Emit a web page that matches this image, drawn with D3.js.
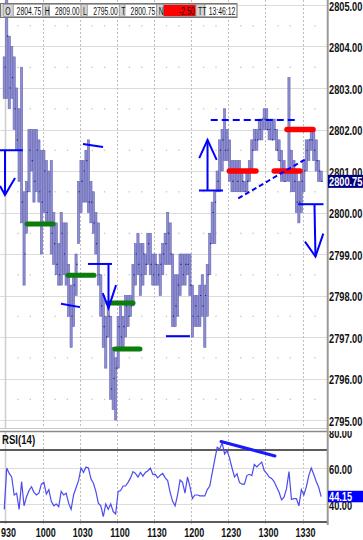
<!DOCTYPE html>
<html>
<head>
<meta charset="utf-8">
<script src="https://cdn.jsdelivr.net/npm/d3@7"></script>
<style>
  body { margin: 0; background: #fff; }
  svg { display: block; font-family: "Liberation Sans", Arial, sans-serif; }
  .grid { stroke: #dcdcdc; stroke-width: 1; }
  .vgrid { stroke: #bdbdbd; stroke-width: 1; stroke-dasharray: 2,2; }
  .bar { fill: #8e8ed0; stroke: #6464b4; stroke-width: 0.6; }
  .tick-close { stroke: #22227c; stroke-width: 1.2; }
  .note { fill: none; stroke: #0000ff; stroke-width: 2; }
  .axis-label { font-weight: bold; fill: #111; }
</style>
</head>
<body>
<svg id="chart" width="363" height="540"></svg>
<script>

/* DATA */
// 2-minute bars, first bar starts 2 minutes before 9:30
var barStart = -2;
var barMinutes = 2;

var highs = [
  2803.75, 2805.5, 2804.25, 2804, 2803.75, 2803, 2802.5, 2803.5, 2800.5, 2800.75,
  2802, 2802, 2802, 2802, 2801.75, 2801.5, 2801.5, 2801.25, 2801, 2801.25,
  2800, 2799.75, 2799.25, 2800, 2799.75, 2799.75, 2798.75, 2798.25, 2798.5, 2799,
  2800.75, 2801.25, 2801.25, 2801.5, 2801.75, 2800.75, 2800.5, 2800, 2799.75, 2798.5,
  2798, 2797.5, 2797.75, 2797.5, 2796.75, 2796.5, 2797.5, 2797.75, 2797.5, 2798,
  2798, 2798, 2798.75, 2799.25, 2799.5, 2799.25, 2799.25, 2799, 2799.5, 2799.5,
  2799, 2799, 2798.75, 2799, 2799.25, 2799.5, 2800, 2799.75, 2799, 2798.5,
  2798.5, 2799, 2799, 2799, 2799, 2799, 2798.25, 2798, 2798, 2798.25,
  2798.5, 2798.25, 2798.75, 2799.5, 2800.25, 2800.5, 2801, 2801.75, 2802, 2802.5,
  2802, 2801.75, 2801.25, 2801.25, 2801.25, 2801.25, 2801, 2800.75, 2801, 2801.25,
  2801.75, 2802, 2802, 2802.25, 2802.25, 2802.5, 2802.5, 2802.25, 2802.25, 2802.25,
  2802, 2801.75, 2801.5, 2801.25, 2801, 2803.25, 2801.5, 2801.25, 2801, 2800.75,
  2801, 2801.25, 2801.75, 2801.75, 2802, 2802, 2801.75, 2801.25, 2801
];

var lows = [
  2802.75, 2802.75, 2802.5, 2802.75, 2802, 2801.5, 2800.75, 2799.75, 2798.25, 2799.5,
  2800.5, 2801, 2800.25, 2800.5, 2800.25, 2799, 2800, 2799.75, 2799.75, 2799,
  2798.75, 2798.5, 2798.25, 2798.25, 2798.5, 2798.25, 2797.5, 2796.75, 2797.25, 2798,
  2799.25, 2800, 2800.25, 2800.25, 2800, 2799.75, 2799.5, 2799, 2798.25, 2797.5,
  2796.75, 2796.25, 2797, 2795.5, 2795.25, 2795, 2796.25, 2796.75, 2796.75, 2797,
  2797.25, 2797.5, 2797.75, 2798.25, 2798.5, 2798, 2798.25, 2798.5, 2798.75, 2798.5,
  2798.25, 2798.25, 2798.25, 2798, 2798.5, 2798.75, 2798.75, 2798.75, 2797.25, 2797.25,
  2797.5, 2798, 2798.25, 2798.25, 2798.5, 2798, 2797, 2797.25, 2797.25, 2797.25,
  2797.5, 2796.75, 2797.5, 2798.5, 2799.25, 2799.25, 2800.5, 2800.5, 2801, 2801.25,
  2801.25, 2800.75, 2800.5, 2800.5, 2800.5, 2800.5, 2800.5, 2800.5, 2800.5, 2800.75,
  2801, 2801.5, 2801.5, 2801.75, 2801.75, 2802, 2802, 2801.75, 2801.75, 2801.75,
  2801.5, 2801.25, 2800.75, 2800.75, 2800.75, 2800.75, 2800.5, 2800.5, 2800, 2799.75,
  2800, 2800.5, 2801, 2801.25, 2801.5, 2801.25, 2801, 2800.75, 2800.75
];

var closes = [
  2803.5, 2804.25, 2803, 2803.25, 2802.5, 2801.75, 2801.5, 2800.25, 2799, 2800.5,
  2801.5, 2801.25, 2800.75, 2801.5, 2800.5, 2800.25, 2801, 2800, 2800.5, 2799.5,
  2799.25, 2798.75, 2798.5, 2799.5, 2799, 2798.5, 2797.75, 2797.5, 2798.25, 2798.75,
  2800.5, 2800.75, 2801, 2801.25, 2800.25, 2800.25, 2799.75, 2799.25, 2798.5, 2797.75,
  2797.25, 2797, 2797.5, 2795.75, 2796, 2796.25, 2797.25, 2797, 2797.25, 2797.75,
  2797.5, 2797.75, 2798.5, 2799, 2798.75, 2798.5, 2799, 2798.75, 2799.25, 2798.75,
  2798.5, 2798.75, 2798.5, 2798.75, 2799, 2799.25, 2799.5, 2799, 2797.5, 2797.75,
  2798.25, 2798.75, 2798.5, 2798.75, 2798.75, 2798.25, 2797.5, 2797.75, 2797.5, 2798,
  2797.75, 2798, 2798.5, 2799.25, 2800, 2800.25, 2800.75, 2801.5, 2801.75, 2801.5,
  2801.5, 2801, 2800.75, 2801, 2800.75, 2801, 2800.75, 2800.5, 2800.75, 2801,
  2801.5, 2801.75, 2801.75, 2802, 2802.25, 2802.25, 2802, 2802, 2801.75, 2802,
  2801.5, 2801.25, 2801, 2800.75, 2801, 2801, 2801, 2800.75, 2800.25, 2800.25,
  2800.75, 2801, 2801.5, 2801.75, 2801.75, 2801.5, 2801.25, 2801, 2800.75
];

var rsiValues = [
  37, 60, 57, 55, 45, 46, 37, 52.4, 39, 44,
  47.5, 49.6, 46.5, 45, 46, 51, 52, 45.5, 48, 41.5,
  39, 40, 38.5, 47, 45, 46, 40.5, 37, 45, 49,
  53, 60, 57.5, 60.5, 60, 54, 51.5, 47, 40.5, 39,
  33, 40, 37, 40, 35.8, 34.5, 47, 47.5, 50, 50,
  52, 54.5, 58, 57, 55, 57.5, 55.5, 57.5, 58.5, 60,
  56.5, 56.5, 54.5, 56, 57, 54.5, 53, 46.5, 41.5, 39,
  45, 53.3, 52, 46, 55, 49.6, 43, 45, 45, 44.5,
  44.5, 44.5, 48, 50, 57.3, 64.5, 71.5, 70.5, 74, 67.8,
  69.7, 65.5, 60, 55, 56.8, 52, 51, 51, 55.8, 56.5,
  55.8, 62, 60.6, 62, 63.3, 58.5, 57, 55, 54.2, 52.5,
  49.5, 46.5, 42.3, 43.8, 48.5, 58, 42.5, 43, 43, 39,
  48, 45, 49.5, 55.8, 60, 56.5, 52.5, 49.3, 44.15
];

var priceTicks = [2795, 2796, 2797, 2798, 2799, 2800, 2801, 2802, 2803, 2804, 2805];
var timeTicks = [0, 30, 60, 90, 120, 150, 180, 210, 240];   // minutes after 9:30
var timeLabels = ["930", "1000", "1030", "1100", "1130", "1200", "1230", "1300", "1330"];
var rsiTicks = [40, 60, 80];
var rsiLevels = [30, 70];
var rsiTitle = "RSI(14)";

var infoLabels = ["O", "H", "L", "T", "N", "TT"];
var infoValues = ["2804.75", "2809.00", "2795.00", "2800.75", "-2.50", "13:46:12"];
var lastPrice = 2800.75;
var lastRsi = 44.15;

// hand drawn marks, in [minutes after 9:30, price]
var blueLines = [
  [[-4.5, 2801.5], [14, 2801.5]],
  [[62.6, 2801.65], [78.8, 2801.58]],
  [[44.8, 2797.8], [60.2, 2797.72]],
  [[66.6, 2798.76], [86, 2798.76]],
  [[129.6, 2797.02], [149, 2797.02]],
  [[156.3, 2800.53], [175.7, 2800.53]],
  [[236.4, 2800.2], [256.9, 2800.2]]
];
var arrows = [
  { shaft: [[-0.4, 2801.5], [-0.4, 2800.42]], head: [[-4.4, 2800.64], [7.7, 2800.83]] },
  { shaft: [[83.2, 2798.76], [83.2, 2797.7]], head: [[78.5, 2798.06], [89.3, 2798.25]] },
  { shaft: [[163.2, 2800.53], [163.2, 2801.75]], head: [[156.5, 2801.31], [170.6, 2801.27]] },
  { shaft: [[249.6, 2800.2], [250.4, 2798.94]], head: [[241.9, 2799.3], [256.7, 2799.49]] }
];
var greenLevels = [[17.4, 38.4, 2799.72], [50.5, 71.5, 2798.49], [82.8, 103, 2797.82], [88.4, 108.6, 2796.71]];
var redLevels = [[180.8, 202.3, 2801], [217.1, 237.9, 2801], [227.4, 248.4, 2802]];
var dashedLines = [
  { pts: [[165.8, 2802.23], [234.7, 2802.23]], dash: "7,4", w: 1.6 },
  { pts: [[188, 2800.34], [243.8, 2801.31]], dash: "5,3", w: 1.2 }
];
var rsiTrend = [[174.1, 74.7], [217.7, 66.7]];


/* SETUP */
var width = 363;
var height = 540;
var plotRight = 327;
var axisX = 328;

var x = d3.scaleLinear().domain([0, 240]).range([5.5, 302.6]);
var y = d3.scaleLinear().domain([2795, 2805]).range([420, 5]);
var yRsi = d3.scaleLinear().domain([30, 80]).range([522, 432]);

var svg = d3.select("svg#chart");
var defs = svg.append("defs");
defs.append("clipPath").attr("id", "clipMain")
  .append("rect").attr("x", 0).attr("y", 0).attr("width", plotRight).attr("height", 428);
defs.append("clipPath").attr("id", "clipRsi")
  .append("rect").attr("x", 0).attr("y", 431).attr("width", plotRight).attr("height", 93);
defs.append("clipPath").attr("id", "clipRsiAxis")
  .append("rect").attr("x", axisX).attr("y", 431).attr("width", 40).attr("height", 95);

function barTime(i) {
  return barStart + barMinutes * i + barMinutes / 2;
}

// narrow a text horizontally around its anchor point
function squeeze(sel, k) {
  sel.each(function() {
    var t = d3.select(this);
    var tx = +t.attr("x") || 0;
    var ty = +t.attr("y") || 0;
    t.attr("x", 0).attr("y", 0)
      .attr("transform", translate(tx, ty) + " scale(" + k + ",1)");
  });
}

drawGrid();
drawBars();
drawRsi();
drawNotes();
drawAxes();
drawInfoBox();


/* GRID */
function drawGrid() {
  var main = svg.append("g").attr("clip-path", "url(#clipMain)");

  main.selectAll("line.grid")
    .data(priceTicks)
    .enter().append("line")
    .attr("class", "grid")
    .attr("x1", 0).attr("x2", plotRight)
    .attr("y1", d => Math.round(y(d)) + 0.5)
    .attr("y2", d => Math.round(y(d)) + 0.5);

  // minor dots every 10 minutes on the half points
  var minor = [];
  for (var m = 10; m <= 250; m += 10) {
    if (m % 30 === 0) continue;
    priceTicks.slice(0, -1).forEach(p => minor.push([m, p + 0.5]));
  }
  main.selectAll("rect.minor")
    .data(minor)
    .enter().append("rect")
    .attr("x", d => x(d[0]) - 0.6)
    .attr("y", d => y(d[1]) - 0.6)
    .attr("width", 1.3).attr("height", 1.3)
    .attr("fill", "#c4c4c4");

  [[0, 428], [431, 524]].forEach(function(span) {
    svg.selectAll(null)
      .data(timeTicks.slice(1))
      .enter().append("line")
      .attr("class", "vgrid")
      .attr("x1", d => Math.round(x(d)) + 0.5).attr("x2", d => Math.round(x(d)) + 0.5)
      .attr("y1", span[0]).attr("y2", span[1]);

    svg.append("line")
      .attr("x1", x(0)).attr("x2", x(0))
      .attr("y1", span[0]).attr("y2", span[1])
      .attr("stroke", "#cfcfcf").attr("stroke-width", 1.6);
  });

  // panel borders
  svg.append("line").attr("x1", 0).attr("x2", plotRight).attr("y1", 428.5).attr("y2", 428.5)
    .attr("stroke", "#c8c8c8");
  svg.append("line").attr("x1", 0).attr("x2", plotRight).attr("y1", 431.5).attr("y2", 431.5)
    .attr("stroke", "#8a8a8a").attr("stroke-width", 1.5);

  var rsiG = svg.append("g").attr("clip-path", "url(#clipRsi)");
  rsiG.selectAll("line.grid")
    .data(rsiTicks.slice(0, 2))
    .enter().append("line")
    .attr("class", "grid")
    .attr("x1", 0).attr("x2", plotRight)
    .attr("y1", d => Math.round(yRsi(d)) + 0.5)
    .attr("y2", d => Math.round(yRsi(d)) + 0.5);

  svg.selectAll("line.level")
    .data(rsiLevels)
    .enter().append("line")
    .attr("class", "level")
    .attr("x1", 0).attr("x2", plotRight)
    .attr("y1", d => yRsi(d)).attr("y2", d => yRsi(d))
    .attr("stroke", "#262626").attr("stroke-width", 1.6);
}


/* PRICE BARS */
function drawBars() {
  var g = svg.append("g").attr("clip-path", "url(#clipMain)");

  g.selectAll("rect.bar")
    .data(highs)
    .enter().append("rect")
    .attr("class", "bar")
    .attr("x", (d, i) => x(barTime(i)) - 1.1)
    .attr("width", 2.2)
    .attr("y", d => y(d))
    .attr("height", (d, i) => y(lows[i]) - y(d));

  g.selectAll("line.tick-close")
    .data(closes)
    .enter().append("line")
    .attr("class", "tick-close")
    .attr("x1", (d, i) => x(barTime(i)) + 0.2)
    .attr("x2", (d, i) => x(barTime(i)) + 1.4)
    .attr("y1", d => y(d))
    .attr("y2", d => y(d));
}


/* RSI PANEL */
function drawRsi() {
  var g = svg.append("g").attr("clip-path", "url(#clipRsi)");

  var line = d3.line()
    .x((d, i) => x(barTime(i)))
    .y(d => yRsi(d));

  g.append("path")
    .datum(rsiValues)
    .attr("d", line)
    .attr("fill", "none")
    .attr("stroke", "#4b4bf0")
    .attr("stroke-width", 1.2);

  g.append("path")
    .datum(rsiTrend)
    .attr("d", d3.line().x(d => x(d[0])).y(d => yRsi(d[1])))
    .attr("fill", "none")
    .attr("stroke", "#1a1aff")
    .attr("stroke-width", 3)
    .attr("stroke-linecap", "round");

  svg.append("text")
    .attr("class", "axis-label")
    .attr("x", 2)
    .attr("y", 444)
    .attr("font-size", 12.5)
    .text(rsiTitle)
    .call(squeeze, 0.77);
}


/* HAND DRAWN MARKS */
function drawNotes() {
  var g = svg.append("g").attr("clip-path", "url(#clipMain)");
  var line = d3.line().x(d => x(d[0])).y(d => y(d[1]));

  g.selectAll("path.green")
    .data(greenLevels)
    .enter().append("path")
    .attr("d", d => line([[d[0], d[2]], [d[1], d[2]]]))
    .attr("stroke", "#0b7d0b").attr("stroke-width", 5)
    .attr("stroke-linecap", "round").attr("fill", "none");

  g.selectAll("path.red")
    .data(redLevels)
    .enter().append("path")
    .attr("d", d => line([[d[0], d[2]], [d[1], d[2]]]))
    .attr("stroke", "#ff0000").attr("stroke-width", 5.5)
    .attr("stroke-linecap", "round").attr("fill", "none");

  g.selectAll("path.hline")
    .data(blueLines)
    .enter().append("path")
    .attr("class", "note")
    .attr("d", line);

  arrows.forEach(function(a) {
    var tip = a.shaft[1];
    g.append("path").attr("class", "note").attr("stroke-width", 1.6).attr("d", line(a.shaft));
    g.append("path").attr("class", "note").attr("stroke-width", 1.6)
      .attr("d", line([a.head[0], tip, a.head[1]]));
  });

  g.selectAll("path.dashed")
    .data(dashedLines)
    .enter().append("path")
    .attr("class", "note")
    .attr("d", d => line(d.pts))
    .attr("stroke-width", d => d.w)
    .attr("stroke-dasharray", d => d.dash);
}


/* AXES */
function drawAxes() {
  svg.append("line")
    .attr("x1", 327.7).attr("x2", 327.7)
    .attr("y1", 0).attr("y2", 525)
    .attr("stroke", "#9a9a9a").attr("stroke-width", 2);

  var priceAxis = d3.axisRight(y)
    .tickValues(priceTicks)
    .tickFormat(d3.format(".2f"))
    .tickSize(0)
    .tickPadding(1);

  svg.append("g")
    .attr("transform", translate(axisX, 0))
    .call(priceAxis)
    .call(g => g.select(".domain").remove())
    .attr("font-size", 12.5).attr("font-family", null)
    .selectAll("text").attr("class", "axis-label").attr("dy", "0.4em").call(squeeze, 0.74);

  var rsiAxis = d3.axisRight(yRsi)
    .tickValues(rsiTicks)
    .tickFormat(d3.format(".2f"))
    .tickSize(0)
    .tickPadding(1);

  // clip in page coordinates, then shift the axis inside
  svg.append("g")
    .attr("clip-path", "url(#clipRsiAxis)")
    .append("g")
    .attr("transform", translate(axisX, 0))
    .call(rsiAxis)
    .call(g => g.select(".domain").remove())
    .attr("font-size", 12.5).attr("font-family", null)
    .selectAll("text").attr("class", "axis-label").attr("dy", "0.4em").call(squeeze, 0.74);

  var timeAxis = d3.axisBottom(x)
    .tickValues(timeTicks)
    .tickFormat((d, i) => timeLabels[i])
    .tickSize(0)
    .tickPadding(3);

  svg.append("g")
    .attr("transform", translate(2.5, 525.6))
    .call(timeAxis)
    .call(g => g.select(".domain").remove())
    .attr("font-size", 12.5).attr("font-family", null)
    .selectAll("text").attr("class", "axis-label").call(squeeze, 0.72);

  // last value tags
  drawTag(y(lastPrice), d3.format(".2f")(lastPrice), "#000080", 13);
  drawTag(yRsi(lastRsi), d3.format(".2f")(lastRsi), "#0000ff", 11.5);
}

function drawTag(cy, label, fill, h) {
  svg.append("rect")
    .attr("x", axisX).attr("y", cy - h / 2)
    .attr("width", width - axisX).attr("height", h)
    .attr("fill", fill);
  svg.append("text")
    .attr("x", axisX + 1).attr("y", cy + 4.5)
    .attr("font-size", 12.5).attr("font-weight", "bold")
    .attr("fill", "#fff")
    .text(label)
    .call(squeeze, 0.74);
}


/* INFO BOX */
function drawInfoBox() {
  var edges = [3.3, 13.3, 42.7, 49.3, 81, 87.3, 119.3, 125, 156.7, 163.3, 196, 205, 236.7];
  var g = svg.append("g").attr("id", "info");

  g.append("rect")
    .attr("x", 0.5).attr("y", 3.5)
    .attr("width", 236.5).attr("height", 14)
    .attr("fill", "#d8d8d8").attr("stroke", "#777");

  infoLabels.forEach(function(lab, i) {
    var x0 = edges[2 * i], x1 = edges[2 * i + 1], x2 = edges[2 * i + 2];

    g.append("rect")
      .attr("x", x0).attr("y", 4.5).attr("width", x1 - x0).attr("height", 12)
      .attr("fill", "#d4d4d4").attr("stroke", "#9a9a9a").attr("stroke-width", 0.8);
    g.append("rect")
      .attr("x", x1).attr("y", 4.5).attr("width", x2 - x1).attr("height", 12)
      .attr("fill", lab === "N" ? "#ff0000" : "#fff")
      .attr("stroke", "#9a9a9a").attr("stroke-width", 0.8);

    g.append("text")
      .attr("x", x0 + 2).attr("y", 15)
      .attr("font-size", 10).attr("fill", "#111")
      .text(lab).call(squeeze, 0.68);
    g.append("text")
      .attr("x", x2 - 1.5).attr("y", 15)
      .attr("text-anchor", "end")
      .attr("font-size", 10).attr("fill", "#111")
      .text(infoValues[i]).call(squeeze, 0.68);
  });
}


/* HELPER FUNCTION */
function translate(x, y) {
  return 'translate(' + String(x) + ',' + String(y) + ')';
}

</script>
</body>
</html>
